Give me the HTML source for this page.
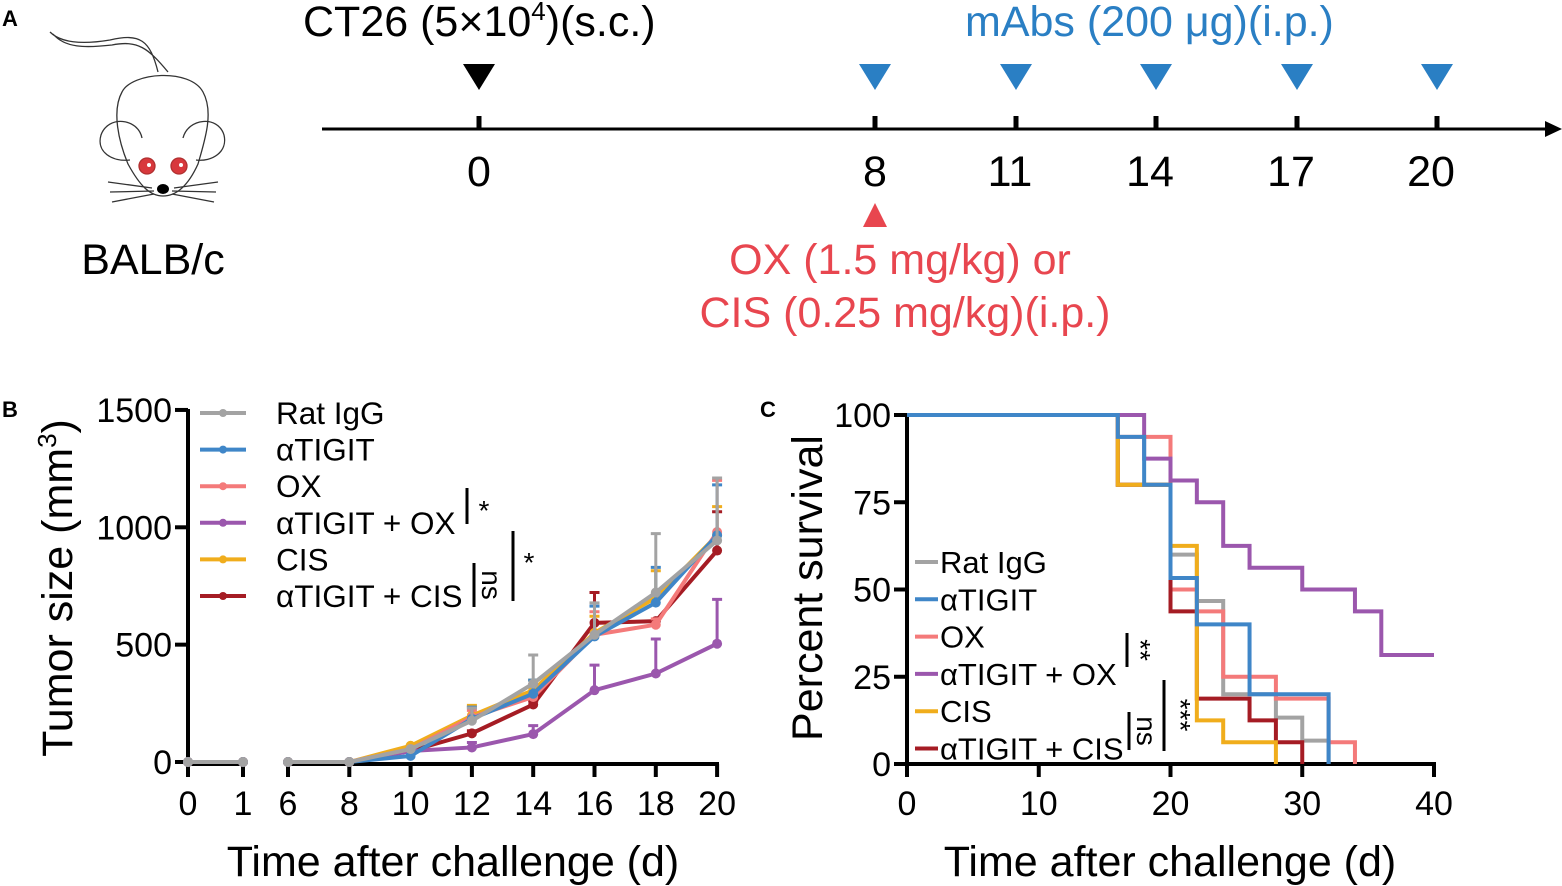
<!DOCTYPE html>
<html><head><meta charset="utf-8">
<style>
html,body{margin:0;padding:0;background:#fff;}
svg{display:block;font-family:"Liberation Sans",Arial,sans-serif;}
</style></head>
<body>
<svg id="fig" width="1562" height="886" viewBox="0 0 1562 886">
<!-- Panel A -->
<g>
<text x="2" y="26" font-size="22" font-weight="bold">A</text>
<g fill="none" stroke="#333" stroke-width="1.3">
<path d="M50,32 C60,42 80,45 110,40 C140,33 150,40 158,72 M53,34 C65,48 85,48 112,45 C138,40 148,48 168,72"/>
<path d="M163,196 C150,196 140,186 128,164 C118,140 112,110 122,92 C132,72 190,68 203,92 C214,112 205,140 198,164 C188,186 176,196 163,196 Z"/>
<path d="M142,138 C138,118 108,115 101,135 C96,152 112,162 130,160"/>
<path d="M183,138 C188,118 218,115 224,135 C228,152 212,162 196,160"/>
<path d="M108,182 L152,188 M110,192 L154,191 M112,202 L154,194 M218,182 L174,188 M216,192 L172,191 M214,202 L172,194"/>
<circle cx="147" cy="166" r="8" fill="#d8383c" stroke="#b03030"/>
<circle cx="179" cy="166" r="8" fill="#d8383c" stroke="#b03030"/>
<circle cx="149" cy="165" r="2" fill="#fff" stroke="none"/>
<circle cx="181" cy="165" r="2" fill="#fff" stroke="none"/>
<ellipse cx="163" cy="189" rx="6" ry="5" fill="#000" stroke="none"/>
</g>
<text x="153" y="274" font-size="43" text-anchor="middle">BALB/c</text>
<text x="303" y="36" font-size="43">CT26 (5×10<tspan font-size="26" dy="-16">4</tspan><tspan dy="16">)(s.c.)</tspan></text>
<text x="965" y="36" font-size="43" fill="#2a7fc4">mAbs (200 μg)(i.p.)</text>
<line x1="322" y1="129" x2="1548" y2="129" stroke="#000" stroke-width="3"/>
<path d="M1545,121 L1562,129 L1545,137 Z" fill="#000"/>
<g id="timeline"></g>
<path d="M863,227 L887,227 L875,203 Z" fill="#e8464f"/>
<text x="900" y="274" font-size="43" fill="#e8464f" text-anchor="middle">OX (1.5 mg/kg) or</text>
<text x="905" y="327" font-size="43" fill="#e8464f" text-anchor="middle">CIS (0.25 mg/kg)(i.p.)</text>
</g>
<!-- Panel B -->
<g id="panelB">
<text x="2" y="417" font-size="22" font-weight="bold">B</text>
<text transform="translate(72,588) rotate(-90)" font-size="43" text-anchor="middle">Tumor size (mm<tspan font-size="26" dy="-16">3</tspan><tspan dy="16">)</tspan></text>
<text x="453" y="876" font-size="43" text-anchor="middle">Time after challenge (d)</text>
</g>
<!-- Panel C -->
<g id="panelC">
<text x="760" y="417" font-size="22" font-weight="bold">C</text>
<text transform="translate(822,588) rotate(-90)" font-size="43" text-anchor="middle">Percent survival</text>
<text x="1170" y="876" font-size="43" text-anchor="middle">Time after challenge (d)</text>
</g>
</svg>
<script>
const NS='http://www.w3.org/2000/svg';
function mk(tag,attrs,parent){const e=document.createElementNS(NS,tag);for(const k in attrs)e.setAttribute(k,attrs[k]);parent.appendChild(e);return e;}

// Timeline
const timeDays=[0,8,11,14,17,20];
const mabDays=[8,11,14,17,20];
const tX=[479,875,1016,1156,1297,1437]; // schematic tick layout
const tl=document.getElementById('timeline');
timeDays.forEach((d,i)=>{
  const t=mk('line',{x1:tX[i],x2:tX[i],y1:116,y2:129,stroke:'#000','stroke-width':5},tl);
  
  
  const l=mk('text',{x:tX[i]-(d>=10?6:0),y:186,'font-size':43,'text-anchor':'middle'},tl);
  l.textContent=d;
  
  
  const isMab=mabDays.indexOf(d)>=0;
  const p=mk('path',{d:`M${tX[i]-16},64 L${tX[i]+16},64 L${tX[i]},90 Z`,fill:isMab?'#2a7fc4':'#000'},tl);
  
  
});

const colors=['#a3a3a3','#3f86c8','#f47a7a','#9b57ad','#f0ad1c','#a51c24'];
const groups=['Rat IgG','αTIGIT','OX','αTIGIT + OX','CIS','αTIGIT + CIS'];

// Panel B data
const bDays=[0,1,6,8,10,12,14,16,18,20];
const bMean=[
 [0,0,0,0,55,176,334,542,722,944],
 [0,0,0,0,26,184,291,535,679,966],
 [0,0,0,0,55,191,277,542,585,980],
 [0,0,0,0,47,62,119,306,377,504],
 [0,0,0,0,69,198,306,550,700,966],
 [0,0,0,0,47,122,245,593,600,901]];
const bErr=[
 [0,0,0,0,0,54,122,136,251,266],
 [0,0,0,0,0,50,58,129,150,215],
 [0,0,0,0,0,29,53,98,25,220],
 [0,0,0,0,0,21,36,107,147,189],
 [0,0,0,0,0,43,43,71,115,122],
 [0,0,0,0,0,11,15,129,0,165]];
const bYTicks=[0,500,1000,1500];
const bXTicks=[0,1,6,8,10,12,14,16,18,20];
function bx(d){return d<=1?188+d*55:288+(d-6)*30.65;}
function by(v){return 762-v*0.2347;}
const B=document.getElementById('panelB');
let a=mk('line',{x1:188,x2:188,y1:409,y2:764,stroke:'#000','stroke-width':4},B);

a=mk('line',{x1:186,x2:245,y1:764,y2:764,stroke:'#000','stroke-width':4},B);

a=mk('line',{x1:287,x2:719,y1:764,y2:764,stroke:'#000','stroke-width':4},B);

bYTicks.forEach(v=>{
  const t=mk('line',{x1:175,x2:188,y1:by(v),y2:by(v),stroke:'#000','stroke-width':4},B);
  
  const l=mk('text',{x:172,y:by(v)+12,'font-size':34,'text-anchor':'end'},B);l.textContent=v;
  
});
bXTicks.forEach(d=>{
  const t=mk('line',{x1:bx(d),x2:bx(d),y1:764,y2:777,stroke:'#000','stroke-width':4},B);
  
  const l=mk('text',{x:bx(d),y:815,'font-size':34,'text-anchor':'middle'},B);l.textContent=d;
  
});
const drawOrder=[5,4,3,2,1,0];
drawOrder.forEach(g=>{
  const c=colors[g];
  bDays.forEach((d,i)=>{
    if(bErr[g][i]>0){
      const e=mk('path',{d:`M${bx(d)},${by(bMean[g][i])} V${by(bMean[g][i]+bErr[g][i])} M${bx(d)-5},${by(bMean[g][i]+bErr[g][i])} H${bx(d)+5}`,stroke:c,'stroke-width':3,fill:'none'},B);
      
    }
  });
  let p1='',p2='';
  bDays.forEach((d,i)=>{const s=`${bx(d)},${by(bMean[g][i])} `;if(d<=1)p1+=s;else p2+=s;});
  let l=mk('polyline',{points:p1,stroke:c,'stroke-width':4,fill:'none'},B);
  
  l=mk('polyline',{points:p2,stroke:c,'stroke-width':4,fill:'none'},B);
  
  bDays.forEach((d,i)=>{
    const m=mk('circle',{cx:bx(d),cy:by(bMean[g][i]),r:5,fill:c},B);
    
  });
});
groups.forEach((n,i)=>{
  const y=413+i*36.6;
  const l=mk('line',{x1:200,x2:246,y1:y,y2:y,stroke:colors[i],'stroke-width':4},B);
  
  const c=mk('circle',{cx:223,cy:y,r:4,fill:colors[i]},B);
  
  const t=mk('text',{x:276,y:y+11,'font-size':31.5},B);t.textContent=n;
  
});
function sig(parent,x,y1,y2,txt,tx,ty,rot,name){
  const l=mk('line',{x1:x,x2:x,y1:y1,y2:y2,stroke:'#000','stroke-width':3},parent);
  
  const t=mk('text',{x:0,y:0,'font-size':28,transform:`translate(${tx},${ty}) rotate(${rot})`,'text-anchor':'middle'},parent);
  t.textContent=txt;
}
sig(B,467,488,524,'*',484,520,0,'b-sig-ox');
sig(B,513,531,601,'*',529,572,0,'b-sig-cis');
sig(B,474,563,607,'ns',482,585,90,'b-sig-ns');

// Panel C data
const cTimes=[
 [0,16,20,22,24,28,30,32],
 [0,16,18,20,22,26,32],
 [0,16,20,22,24,28,32,34],
 [0,18,20,22,24,26,30,34,36,40],
 [0,16,20,22,24,28],
 [0,16,20,22,26,28,30]];
const cSurv=[
 [100,80,60,46.7,20,13.3,6.7,0],
 [100,93.75,80,53.3,40,20,0],
 [100,93.75,50,43.75,25,18.75,6.25,0],
 [100,87.5,81.25,75,62.5,56.25,50,43.75,31.25,31.25],
 [100,80,62.5,12.5,6.25,0],
 [100,80,43.75,18.75,12.5,6.25,0]];
const cXTicks=[0,10,20,30,40];
const cYTicks=[0,25,50,75,100];
function cx(d){return 907+d*13.175;}
function cy(v){return 764-v*3.49;}
const C=document.getElementById('panelC');
a=mk('line',{x1:907,x2:907,y1:413,y2:766,stroke:'#000','stroke-width':4},C);

a=mk('line',{x1:905,x2:1436,y1:764,y2:764,stroke:'#000','stroke-width':4},C);

cYTicks.forEach(v=>{
  const t=mk('line',{x1:894,x2:907,y1:cy(v),y2:cy(v),stroke:'#000','stroke-width':4},C);
  
  const l=mk('text',{x:891,y:cy(v)+12,'font-size':34,'text-anchor':'end'},C);l.textContent=v;
  
});
cXTicks.forEach(d=>{
  const t=mk('line',{x1:cx(d),x2:cx(d),y1:764,y2:777,stroke:'#000','stroke-width':4},C);
  
  const l=mk('text',{x:cx(d),y:815,'font-size':34,'text-anchor':'middle'},C);l.textContent=d;
  
});
[0,2,5,4,3,1].forEach(g=>{
  const T=cTimes[g],S=cSurv[g];
  let d=`M${cx(T[0])},${cy(S[0])}`;
  for(let i=1;i<T.length;i++){d+=` H${cx(T[i])} V${cy(S[i])}`;}
  const p=mk('path',{d:d,stroke:colors[g],'stroke-width':4,fill:'none'},C);
  
});
groups.forEach((n,i)=>{
  const y=562+i*37.3;
  const l=mk('line',{x1:915,x2:938,y1:y,y2:y,stroke:colors[i],'stroke-width':4},C);
  
  const t=mk('text',{x:940,y:y+11,'font-size':31},C);t.textContent=n;
  
});
sig(C,1127,633,667,'**',1131,650,90,'c-sig-ox');
sig(C,1164,680,751,'***',1171,715,90,'c-sig-cis');
sig(C,1129,712,750,'ns',1137,731,90,'c-sig-ns');
</script>
</body></html>
